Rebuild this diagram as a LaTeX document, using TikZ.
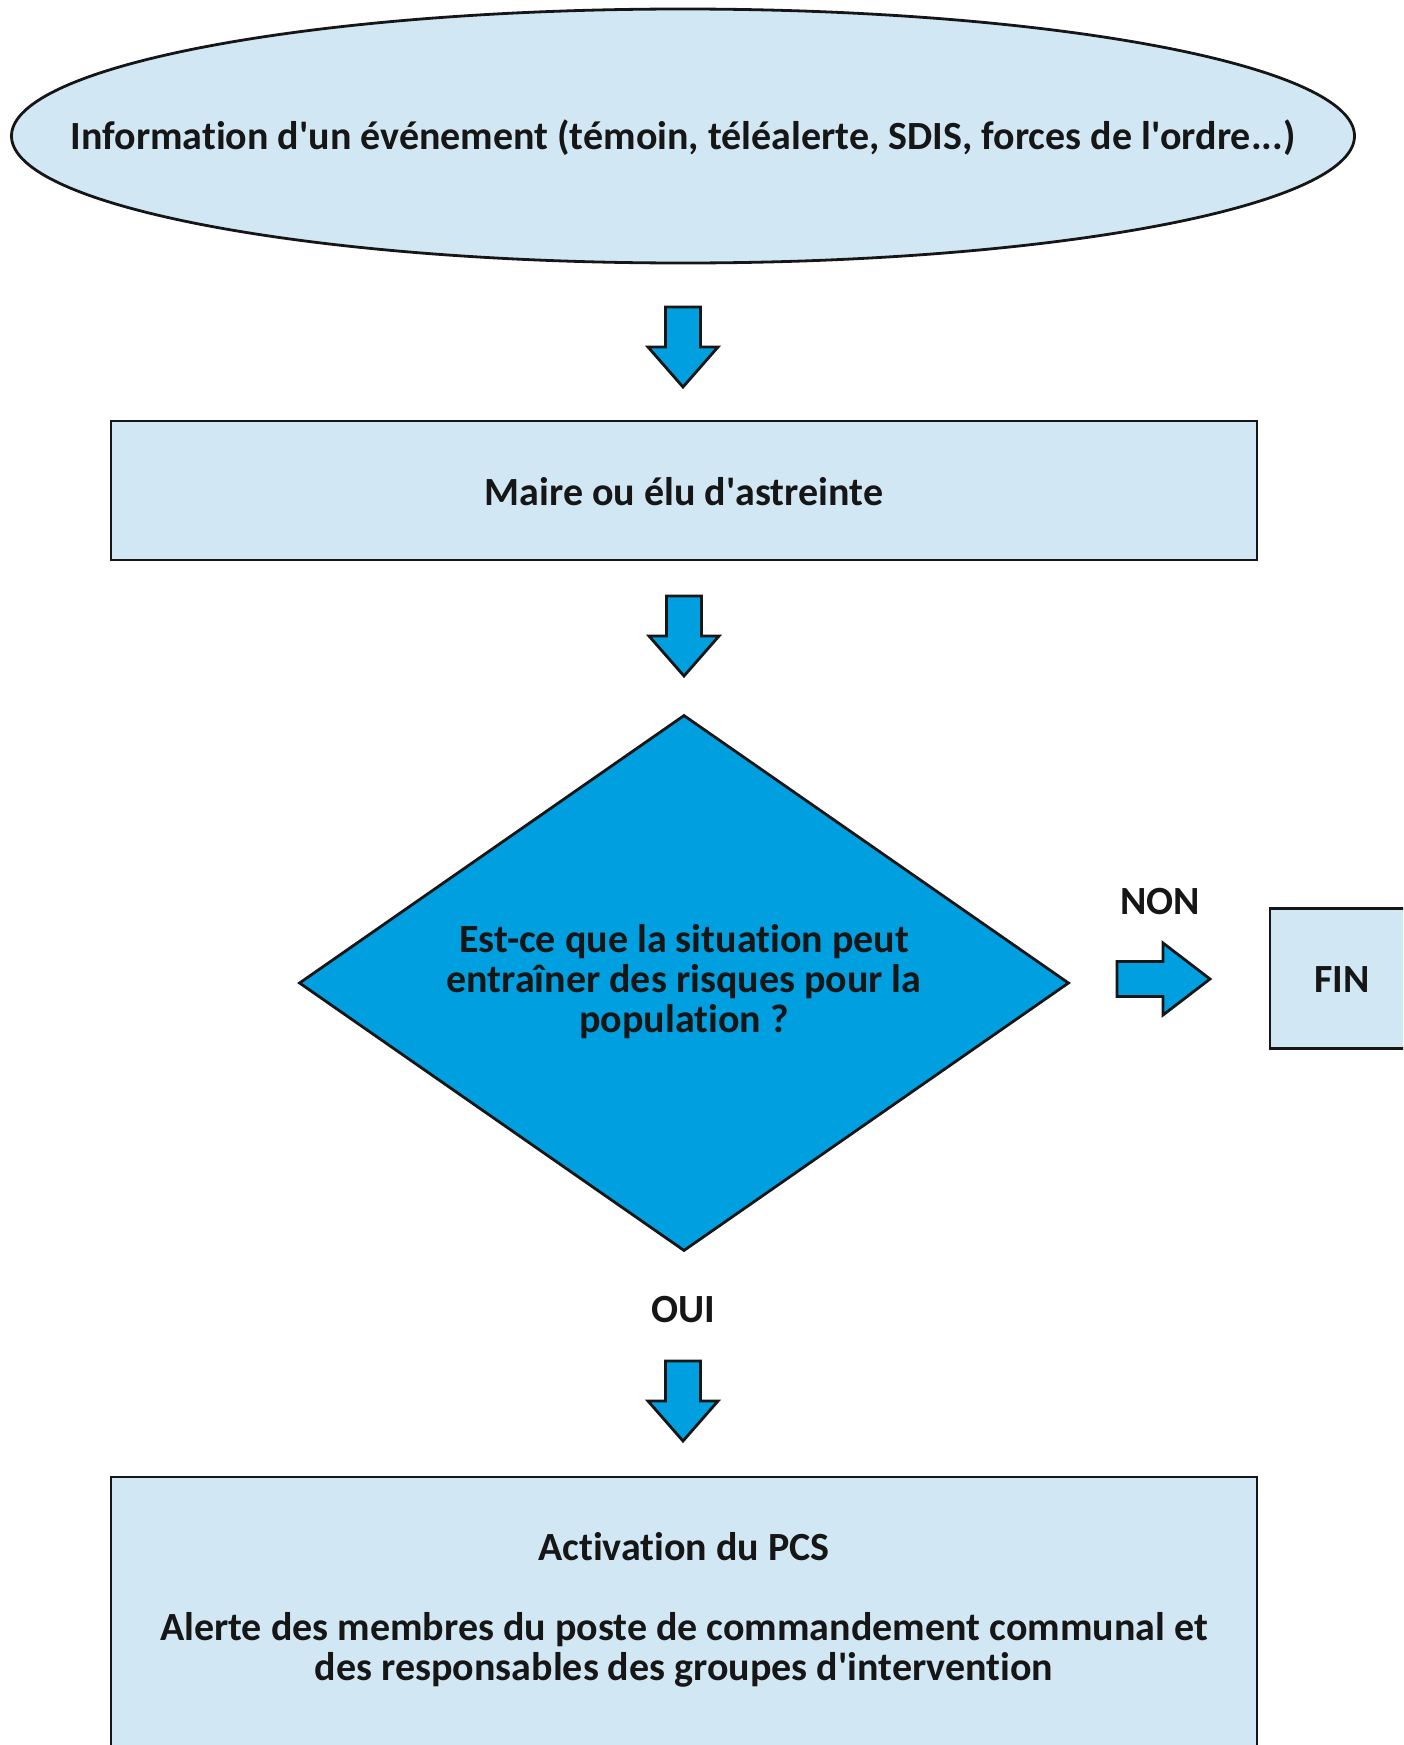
\documentclass[tikz,border=0pt]{standalone}
\usepackage{fontspec}
\setmainfont{Carlito}[Ligatures={NoCommon}]
\usetikzlibrary{shapes.geometric}
\definecolor{lightfill}{HTML}{D1E8F4}
\definecolor{bluefill}{HTML}{009FE0}
\definecolor{ink}{HTML}{161616}
\newcommand{\apos}{\textquotesingle}
\begin{document}
\begin{tikzpicture}[x=1pt,y=-1pt,
  txt/.style={font=\bfseries\fontsize{40}{40}\selectfont, text=ink, align=center, inner sep=0pt},
  boxshape/.style={draw=ink, line width=2.8pt, fill=lightfill, rectangle, inner sep=0pt},
  blockarrow/.style={draw=ink, line width=2.8pt, fill=bluefill, line join=miter},
  down arrow/.pic={\path[blockarrow] (-17.5,0) -- (17.5,0) -- (17.5,40) -- (35,40) -- (0,80) -- (-35,40) -- (-17.5,40) -- cycle;},
  right arrow/.pic={\path[blockarrow] (0,-17.5) -- (46,-17.5) -- (46,-36) -- (93,0) -- (46,36) -- (46,17.5) -- (0,17.5) -- cycle;}
]
\useasboundingbox (0,0) rectangle (1403,1745);
\clip (0,0) rectangle (1403,1745);
\fill[white] (0,0) rectangle (1403,1745);

% nodes
\node[ellipse, draw=ink, line width=2.8pt, fill=lightfill, minimum width=1343pt, minimum height=254pt, inner sep=0pt] (info) at (683,136) {};
\node[txt] (infotxt) at (683,138) {Information d\apos un événement (témoin, téléalerte, SDIS, forces de l\apos ordre...)};

\node[boxshape, minimum width=1146pt, minimum height=139pt] (maire) at (684,490.5) {};
\node[txt] (mairetxt) at (684,491.5) {Maire ou élu d\apos astreinte};

\node[diamond, draw=ink, line width=2.8pt, fill=bluefill, minimum width=770pt, minimum height=536pt, aspect=1.437, inner sep=0pt] (question) at (684,983) {};
\node[txt] (questiontxt) at (684,982) {Est-ce que la situation peut\\entraîner des risques pour la\\population ?};

\node[txt] (non) at (1160,902) {NON};
\node[boxshape, minimum width=160pt, minimum height=140pt] (fin) at (1350,978.5) {};
\node[txt] (fintxt) at (1342,979.5) {FIN};

\node[txt] (oui) at (683,1310) {OUI};

\node[boxshape, minimum width=1146pt, minimum height=340pt] (pcs) at (684,1647) {};
\node[txt] (pcstxt) at (684,1610) {Activation du PCS\\[40pt]Alerte des membres du poste de commandement communal et\\des responsables des groupes d\apos intervention};

% block arrow connectors
\coordinate (a1) at (info.south |- 0,307);
\coordinate (a2) at (maire.south |- 0,596);
\coordinate (a3) at (oui.south |- 0,1361);
\coordinate (a4) at (1117,979);
\pic at (a1) {down arrow};
\pic at (a2) {down arrow};
\pic at (a3) {down arrow};
\pic at (a4) {right arrow};
\end{tikzpicture}
\end{document}
